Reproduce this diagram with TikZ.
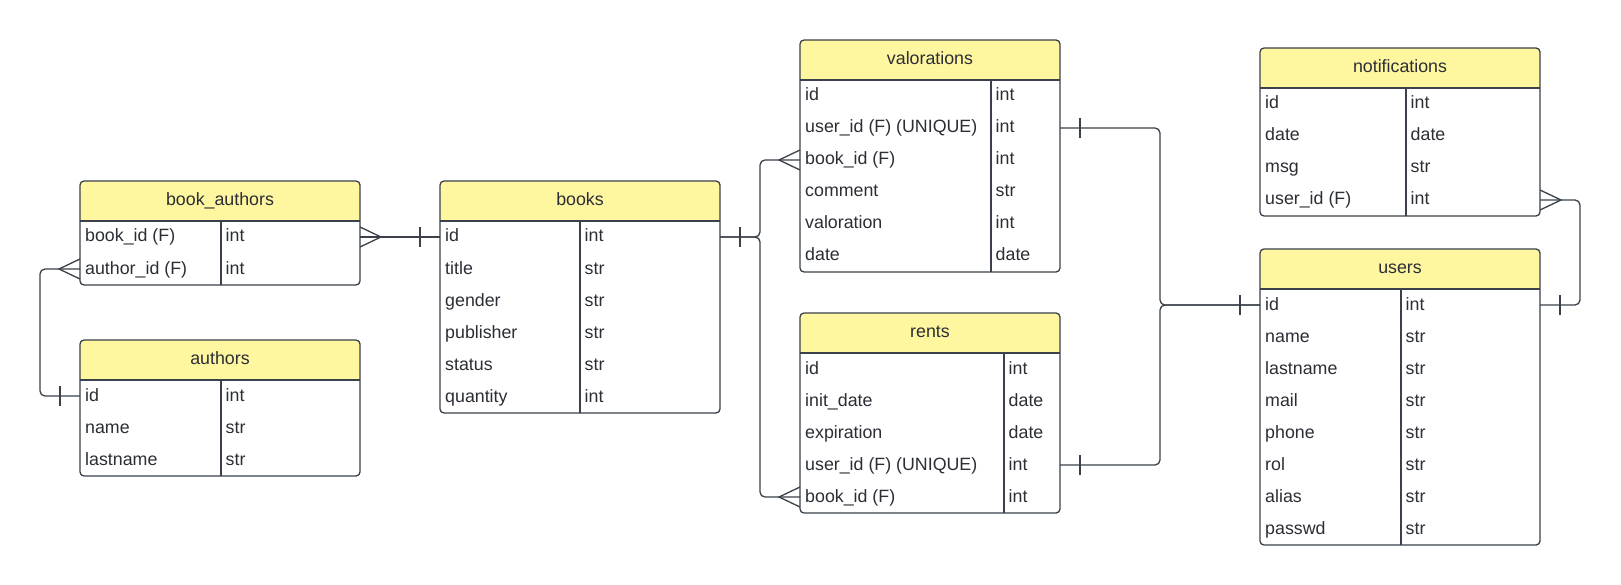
\documentclass[tikz,border=0pt]{standalone}
\usepackage{fontspec}
\setmainfont{Liberation Sans}
\definecolor{hdr}{HTML}{FFF6A0}
\definecolor{lnc}{HTML}{3A414A}
\definecolor{txc}{HTML}{2B2E35}
\tikzset{
  tbl/.style={draw=lnc, line width=1.3pt, rounded corners=4pt, inner sep=0pt, outer sep=0pt, rectangle},
  tline/.style={draw=lnc, line width=1.3pt},
  rowbox/.style={inner sep=0pt, outer sep=0pt, minimum height=32pt, rectangle},
  cell/.style={inner sep=0pt, text=txc, font=\fontsize{17.8}{21}\selectfont},
  conn/.style={draw=lnc, line width=1.3pt, rounded corners=5pt},
  cardmark/.style={draw=lnc, line width=1.3pt}
}
% #1 name, #2 left, #3 top, #4 width, #5 divider offset, #6 rows, #7 title, #8 rows list
\newcommand{\ertable}[8]{%
  \pgfmathsetmacro{\erH}{40+32*#6}
  \begin{scope}
    \clip[rounded corners=4pt] (#2,#3) rectangle ++(#4,\erH);
    \fill[hdr] (#2,#3) rectangle ++(#4,40);
  \end{scope}
  \node[tbl, minimum width=#4pt, minimum height=\erH pt, anchor=north west] (#1) at (#2,#3) {};
  \draw[tline] (#2,#3+40) -- ++(#4,0);
  \draw[tline] (#2+#5,#3+40) -- (#2+#5,#3+\erH);
  \node[cell, anchor=base] (#1-t) at (#2+#4/2,#3+24.3) {#7};
  \foreach \a/\b [count=\i] in {#8} {
    \node[rowbox, minimum width=#4pt] (#1-\i) at (#2+#4/2,#3+40+32*\i-16) {};
    \node[cell, anchor=base west] (#1-\i-k) at (#2+5,#3+40+32*\i-11) {\a};
    \node[cell, anchor=base west] (#1-\i-v) at (#2+#5+4.5,#3+40+32*\i-11) {\b};
  }
}
\newcommand{\crowE}[1]{\draw[cardmark] ([yshift=10pt]#1) -- ([xshift=21pt]#1) -- ([yshift=-10pt]#1);}
\newcommand{\crowW}[1]{\draw[cardmark] ([yshift=10pt]#1) -- ([xshift=-21pt]#1) -- ([yshift=-10pt]#1);}
\newcommand{\barE}[1]{\draw[cardmark] ([xshift=20pt,yshift=10pt]#1) -- ([xshift=20pt,yshift=-10pt]#1);}
\newcommand{\barW}[1]{\draw[cardmark] ([xshift=-20pt,yshift=10pt]#1) -- ([xshift=-20pt,yshift=-10pt]#1);}
\begin{document}
\begin{tikzpicture}[x=1pt,y=-1pt]
\fill[white] (0,0) rectangle (1621,585);
\useasboundingbox (0,0) rectangle (1621,585);

\ertable{ba}{80}{181}{280}{141}{2}{book\_authors}{book\_id (F)/int, author\_id (F)/int}
\ertable{au}{80}{340}{280}{141}{3}{authors}{id/int, name/str, lastname/str}
\ertable{bk}{440}{181}{280}{140}{6}{books}{id/int, title/str, gender/str, publisher/str, status/str, quantity/int}
\ertable{va}{800}{40}{260}{191}{6}{valorations}{id/int, user\_id (F) (UNIQUE)/int, book\_id (F)/int, comment/str, valoration/int, date/date}
\ertable{re}{800}{313}{260}{204}{5}{rents}{id/int, init\_date/date, expiration/date, user\_id (F) (UNIQUE)/int, book\_id (F)/int}
\ertable{no}{1260}{48}{280}{146}{4}{notifications}{id/int, date/date, msg/str, user\_id (F)/int}
\ertable{us}{1260}{249}{280}{141}{8}{users}{id/int, name/str, lastname/str, mail/str, phone/str, rol/str, alias/str, passwd/str}

% book_authors -- books
\draw[conn] (ba-1.east) -- (bk-1.west);
\crowE{ba-1.east} \barW{bk-1.west}
% book_authors -- authors
\draw[conn] (ba-2.west) -- ++(-40,0) |- (au-1.west);
\crowW{ba-2.west} \barW{au-1.west}
% books -- valorations / rents
\draw[conn] (bk-1.east) -- ++(40,0) |- (va-3.west);
\draw[conn] (bk-1.east) -- ++(40,0) |- (re-5.west);
\barE{bk-1.east} \crowW{va-3.west} \crowW{re-5.west}
% valorations / rents -- users
\draw[conn] (va-2.east) -- ++(100,0) |- (us-1.west);
\draw[conn] (re-4.east) -- ++(100,0) |- (us-1.west);
\barE{va-2.east} \barE{re-4.east} \barW{us-1.west}
% users -- notifications
\draw[conn] (us-1.east) -- ++(40,0) |- (no-4.east);
\barE{us-1.east} \crowE{no-4.east}
\end{tikzpicture}
\end{document}
